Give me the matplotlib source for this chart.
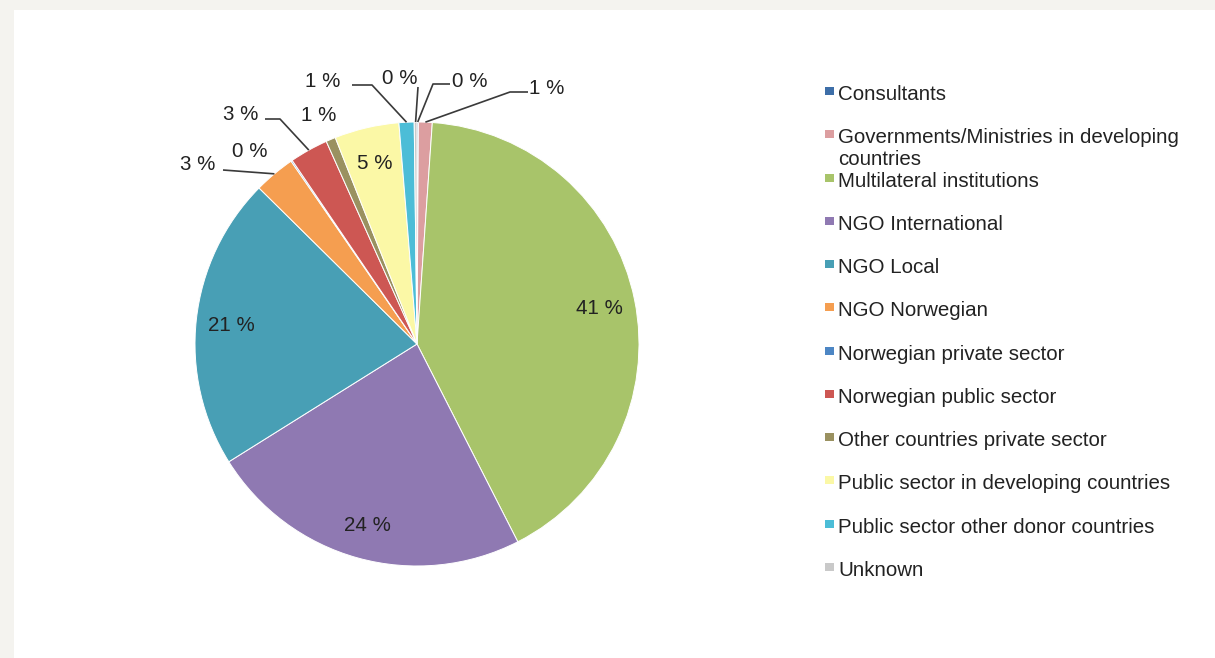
import numpy as np
import matplotlib.pyplot as plt
from matplotlib.patches import Rectangle

plt.rcParams['font.family'] = ['Liberation Sans', 'DejaVu Sans']

W, H = 1215, 658

categories = [
    'Consultants',
    'Governments/Ministries in developing\ncountries',
    'Multilateral institutions',
    'NGO International',
    'NGO Local',
    'NGO Norwegian',
    'Norwegian private sector',
    'Norwegian public sector',
    'Other countries private sector',
    'Public sector in developing countries',
    'Public sector other donor countries',
    'Unknown',
]
shares = [0.1, 1.0, 41.4, 23.6, 21.3, 3.0, 0.1, 2.8, 0.7, 4.7, 1.1, 0.2]
colors = ['#3d6ea8', '#dc9ea0', '#a8c46a', '#8f79b2', '#489fb5', '#f59e50',
          '#4d86c4', '#cd5753', '#9a9160', '#fbf8a6', '#4cbdd7', '#c9c9c9']

# big slices get their label inside the pie
inside = {2, 3, 4, 9}
# small slices: label position and leader elbow points (pixels, y down)
outside = {
    0: ((470, 80), [(433, 84), (450, 84)]),
    1: ((547, 87), [(510, 92), (528, 92)]),
    5: ((198, 163), [(223, 170)]),
    6: ((250, 150), []),
    7: ((241, 113), [(280, 119), (265, 119)]),
    8: ((319, 114), []),
    10: ((323, 80), [(372, 85), (352, 85)]),
    11: ((400, 77), [(418, 87)]),
}

cx, cy, radius = 417, 344, 222
fs = 14.8
txt_shift = 1.5  # nudge text centres down a little

fig = plt.figure(figsize=(W / 100, H / 100), dpi=100, facecolor='#f4f3ef')
fig.patches.append(Rectangle((14 / W, 0), 1, (H - 10) / H, transform=fig.transFigure,
                             facecolor='white', edgecolor='none', zorder=-5))
ax = fig.add_axes([0, 0, 1, 1])
ax.set_facecolor('none')

wedges, _ = ax.pie(shares, colors=colors, startangle=90, counterclock=False,
                   center=(cx, H - cy), radius=radius,
                   wedgeprops=dict(edgecolor='white', linewidth=0.7))
ax.set_xlim(0, W)
ax.set_ylim(0, H)
ax.axis('off')

for i, (w, v) in enumerate(zip(wedges, shares)):
    label = f'{v:.0f} %'
    mid = np.deg2rad((w.theta1 + w.theta2) / 2)
    if i in inside:
        d = 0.84 * radius
        ax.text(cx + d * np.cos(mid), H - cy + d * np.sin(mid) - txt_shift, label,
                ha='center', va='center', fontsize=fs, color='#222222')
    else:
        (tx, ty), elbows = outside[i]
        rim = (cx + radius * np.cos(mid), H - cy + radius * np.sin(mid))
        if elbows:
            xs = [rim[0]] + [p[0] for p in elbows]
            ys = [rim[1]] + [H - p[1] for p in elbows]
            ax.plot(xs, ys, color='#3a3a3a', lw=1.2, solid_capstyle='butt')
        ax.text(tx, H - ty - txt_shift, label, ha='center', va='center',
                fontsize=fs, color='#222222')

# legend, one row per category
row_top, row_step, line_gap = 93, 43.27, 22
for i, (name, c) in enumerate(zip(categories, colors)):
    y = row_top + i * row_step
    ax.add_patch(Rectangle((825, H - y - 2), 9, 8, facecolor=c, edgecolor='none'))
    for k, line in enumerate(name.split('\n')):
        ax.text(838, H - (y + k * line_gap) - txt_shift, line, ha='left', va='center',
                fontsize=fs, color='#222222')

fig.savefig('out.png', dpi=100, facecolor=fig.get_facecolor())
